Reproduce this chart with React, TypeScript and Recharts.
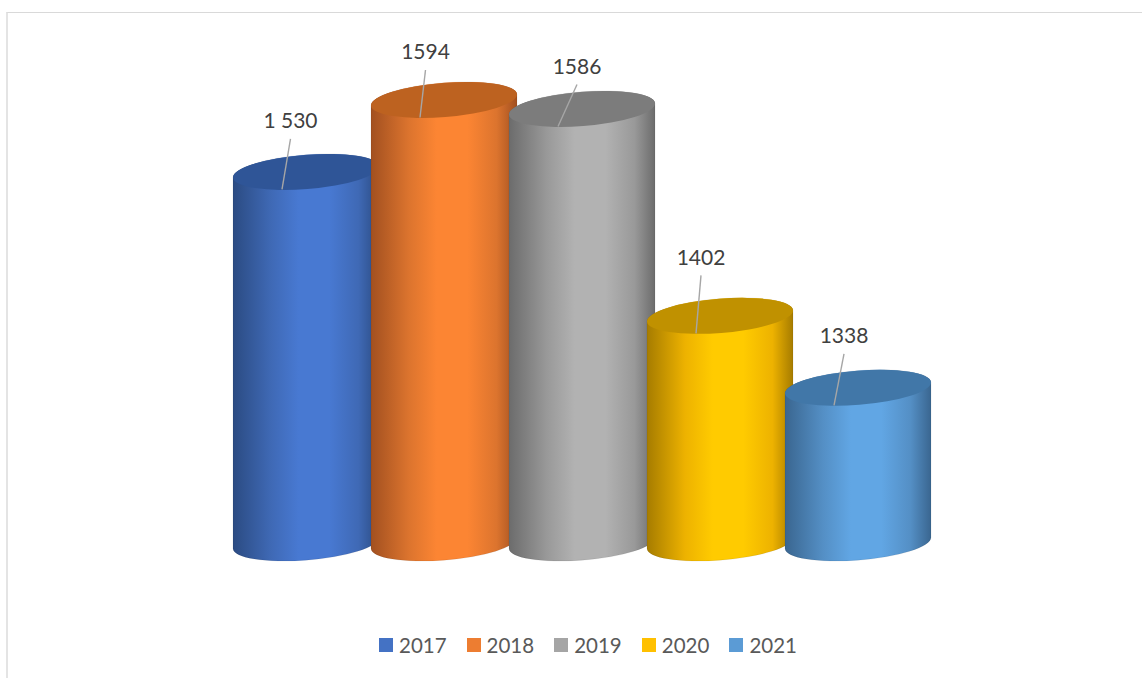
import React from "react";
import { BarChart, Bar, XAxis, YAxis, Legend, LabelList } from "recharts";

const YEARS = ["2017", "2018", "2019", "2020", "2021"];
const VALUES = [1530, 1594, 1586, 1402, 1338];
const VALUE_LABELS = ["1 530", "1594", "1586", "1402", "1338"];

const LEGEND_COLORS = ["#4472c4", "#ed7d31", "#a5a5a5", "#ffc000", "#5b9bd5"];
const BODY_LIGHT = ["#4879d2", "#fc8533", "#b2b2b2", "#ffcb00", "#61a6e4"];
const BODY_MID = ["#3f69b5", "#dc742e", "#999999", "#edb200", "#548fc5"];
const BODY_DARK = ["#2b4b82", "#a25020", "#6c6c6c", "#a67c00", "#3a6690"];
const TOP_COLORS = ["#2f5597", "#bd6220", "#7c7c7c", "#c09100", "#4177a8"];

// where each data label sits, relative to the top of its cylinder
const LABEL_DX = [-15.5, -18.5, -5, -19, -14];
const LABEL_DY = [-51, -48, -42.5, -58.5, -52];

const data = YEARS.map((year, i) => ({ year, value: VALUES[i] }));

const FONT = "Lato, sans-serif";

// tilted ellipse of the cylinder ends
const RX = 73.2;
const RY = 17.1;
const TILT = -4.54;
const SLOPE = 5.5;
const HALF = 73;

function Cylinder(props: any) {
  const { x, y, width, height, index } = props;
  const cx = x + width / 2;
  const base = y + height;
  const body = [
    `M${cx - HALF},${y + SLOPE}`,
    `L${cx - HALF},${base + SLOPE}`,
    `A${RX},${RY} ${TILT} 0 0 ${cx + HALF},${base - SLOPE}`,
    `L${cx + HALF},${y - SLOPE}`,
    `A${RX},${RY} ${TILT} 0 0 ${cx - HALF},${y + SLOPE}`,
    "Z",
  ].join(" ");
  return (
    <g>
      <path d={body} fill={`url(#cyl-${index})`} stroke="#00000018" strokeWidth={0.8} />
      <ellipse
        cx={cx}
        cy={y}
        rx={RX}
        ry={RY}
        fill={TOP_COLORS[index]}
        transform={`rotate(${TILT} ${cx} ${y})`}
      />
    </g>
  );
}

function CylinderLabel(props: any) {
  const { x, y, width, index } = props;
  const cx = x + width / 2;
  const tx = cx + LABEL_DX[index];
  const ty = y + LABEL_DY[index];
  return (
    <g>
      <line x1={tx} y1={ty + 18} x2={cx - 24} y2={y + 17.5} stroke="#a6a6a6" strokeWidth={1.4} />
      <text x={tx} y={ty + 7.5} textAnchor="middle" fontFamily={FONT} fontSize={21} fill="#404040">
        {VALUE_LABELS[index]}
      </text>
    </g>
  );
}

function YearLegend() {
  return (
    <div
      style={{
        position: "absolute",
        left: 379,
        top: 633,
        display: "flex",
        fontFamily: FONT,
        fontSize: 20.5,
        color: "#595959",
        lineHeight: "24px",
      }}
    >
      {YEARS.map((year, i) => (
        <div key={year} style={{ display: "flex", alignItems: "center", width: 87.6 }}>
          <span style={{ width: 14, height: 14, background: LEGEND_COLORS[i], marginRight: 6 }} />
          {year}
        </div>
      ))}
    </div>
  );
}

export default function App() {
  return (
    <div style={{ position: "absolute", left: 0, top: 0, width: 1148, height: 678, overflow: "hidden", background: "#fff" }}>
      <div
        style={{
          position: "absolute",
          left: 6,
          top: 12,
          width: 1134,
          height: 666,
          borderTop: "1px solid #d9d9d9",
          borderLeft: "2px solid #e4e4e4",
        }}
      />
      <BarChart
        width={1148}
        height={678}
        data={data}
        margin={{ top: 37, bottom: 135, left: 237, right: 221 }}
        barCategoryGap={0}
        style={{ position: "absolute", left: 0, top: 0 }}
      >
        <defs>
          {YEARS.map((year, i) => (
            <linearGradient key={year} id={`cyl-${i}`} x1="0" y1="0" x2="1" y2="0">
              <stop offset="0" stopColor={BODY_DARK[i]} />
              <stop offset="0.26" stopColor={BODY_MID[i]} />
              <stop offset="0.45" stopColor={BODY_LIGHT[i]} />
              <stop offset="0.66" stopColor={BODY_LIGHT[i]} />
              <stop offset="0.86" stopColor={BODY_MID[i]} />
              <stop offset="1" stopColor={BODY_DARK[i]} />
            </linearGradient>
          ))}
        </defs>
        <XAxis dataKey="year" hide />
        <YAxis hide domain={[1200, 1650]} />
        <Legend content={<YearLegend />} wrapperStyle={{ position: "absolute", left: 0, top: 0, width: 0, height: 0 }} />
        <Bar dataKey="value" shape={<Cylinder />} isAnimationActive={false}>
          <LabelList dataKey="value" content={<CylinderLabel />} />
        </Bar>
      </BarChart>
    </div>
  );
}
